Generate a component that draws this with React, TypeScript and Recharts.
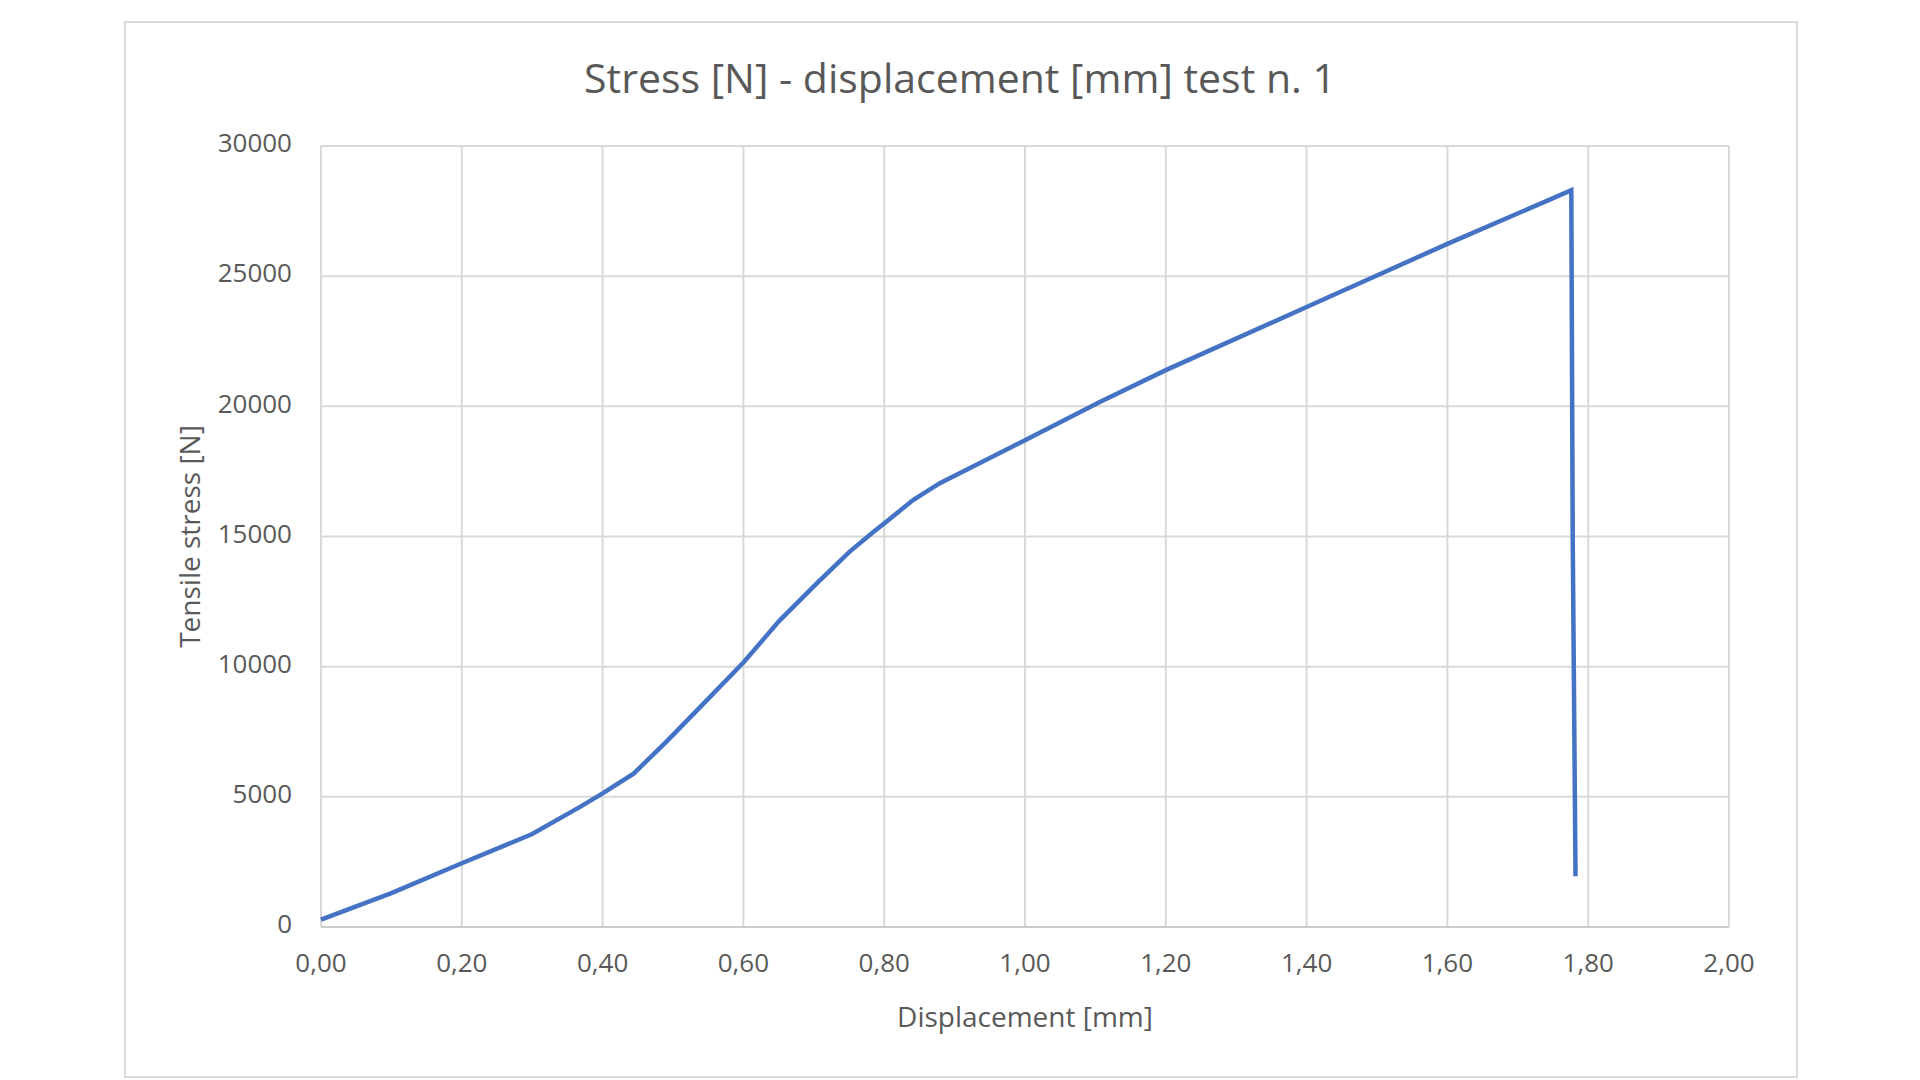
import { CartesianGrid, Line, LineChart, XAxis, YAxis } from "recharts";

const displacement = [
  0.0, 0.1, 0.2, 0.3, 0.368, 0.4, 0.444, 0.49, 0.543, 0.6, 0.651, 0.706, 0.751, 0.785, 0.803,
  0.841, 0.879, 0.936, 1.0, 1.107, 1.2, 1.4, 1.6, 1.747, 1.776, 1.778, 1.782
];
const stress = [
  280, 1300, 2450, 3570, 4615, 5130, 5890, 7100, 8570, 10160, 11760, 13250, 14420, 15180, 15570,
  16400, 17050, 17820, 18700, 20180, 21390, 23815, 26240, 27960, 28300, 15000, 1950
];

const xTicks = [0, 0.2, 0.4, 0.6, 0.8, 1.0, 1.2, 1.4, 1.6, 1.8, 2.0];
const yTicks = [0, 5000, 10000, 15000, 20000, 25000, 30000];

const TITLE = "Stress [N] - displacement [mm] test n. 1";
const X_TITLE = "Displacement [mm]";
const Y_TITLE = "Tensile stress [N]";

const data = displacement.map((x, i) => ({ x, y: stress[i] }));

const FONT = "'Open Sans', 'Noto Sans', sans-serif";
const TEXT = "#595959";
const GRID = "#d9d9d9";

function formatX(value: number) {
  return value.toFixed(2).replace(".", ",");
}

export default function App() {
  return (
    <div style={{ position: "absolute", left: 0, top: 0, width: 1920, height: 1080, background: "#fff" }}>
      <div
        style={{
          position: "absolute",
          left: 124,
          top: 21,
          width: 1670,
          height: 1053,
          border: `2px solid ${GRID}`
        }}
      />
      <div
        style={{
          position: "absolute",
          left: 125,
          width: 1670,
          top: 57,
          textAlign: "center",
          fontFamily: FONT,
          fontSize: 41,
          lineHeight: "41px",
          color: TEXT
        }}
      >
        {TITLE}
      </div>
      <LineChart
        width={1920}
        height={1080}
        data={data}
        margin={{ top: 146, right: 191, bottom: 77, left: 181 }}
        style={{ position: "absolute", left: 0, top: 0 }}
      >
        <CartesianGrid stroke={GRID} strokeWidth={2} />
        <XAxis
          dataKey="x"
          type="number"
          domain={[0, 2]}
          ticks={xTicks}
          tickFormatter={formatX}
          tick={{ fontSize: 26, fill: TEXT, fontFamily: FONT }}
          axisLine={{ stroke: "#cccccc", strokeWidth: 2 }}
          tickLine={false}
          tickSize={0}
          tickMargin={27}
          height={76}
          label={{
            value: X_TITLE,
            position: "bottom",
            offset: 4,
            style: { fontSize: 28, fill: TEXT, fontFamily: FONT }
          }}
        />
        <YAxis
          type="number"
          domain={[0, 30000]}
          ticks={yTicks}
          tick={{ fontSize: 26, fill: TEXT, fontFamily: FONT, dy: -3 }}
          axisLine={false}
          tickLine={false}
          tickSize={0}
          tickMargin={29}
          width={140}
          label={{
            value: Y_TITLE,
            angle: -90,
            position: "insideLeft",
            offset: 9,
            style: { fontSize: 28, fill: TEXT, fontFamily: FONT, textAnchor: "middle" }
          }}
        />
        <Line
          type="linear"
          dataKey="y"
          stroke="#4472C4"
          strokeWidth={4.5}
          dot={false}
          isAnimationActive={false}
        />
      </LineChart>
    </div>
  );
}
